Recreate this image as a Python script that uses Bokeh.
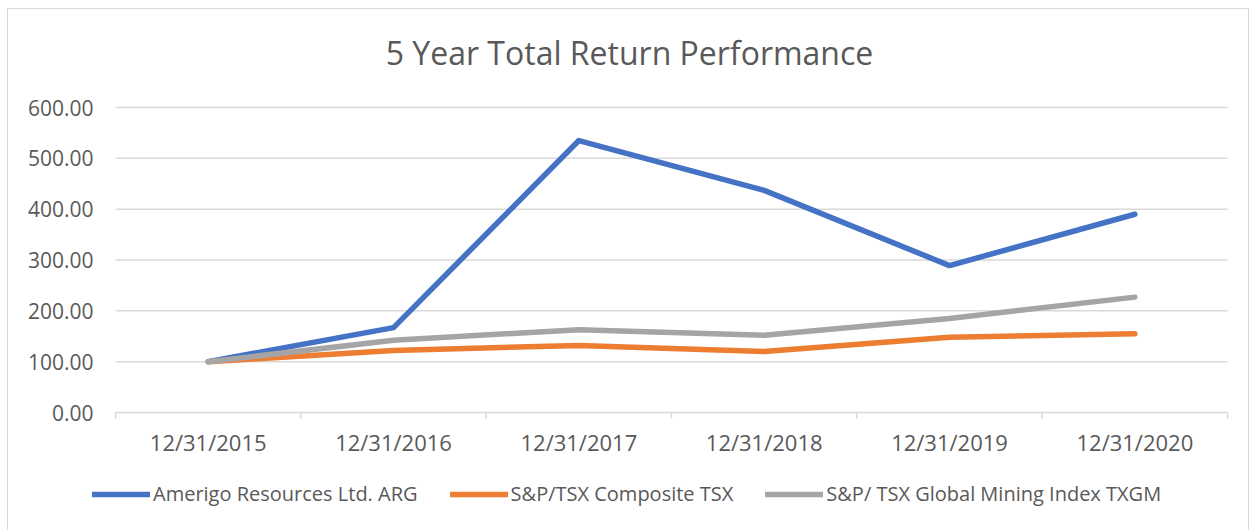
from bokeh.plotting import figure
from bokeh.models import Range1d, Legend, LegendItem, ColumnDataSource
from bokeh.core.properties import value
from bokeh.embed import file_html
from bokeh.resources import INLINE

title_text = "5 Year Total Return Performance"
dates = ["12/31/2015", "12/31/2016", "12/31/2017", "12/31/2018", "12/31/2019", "12/31/2020"]
arg = [100, 167, 535, 437, 289, 390]
tsx = [100, 122, 132, 120, 148, 155]
txgm = [100, 142, 163, 152, 185, 227]
yticks = [0, 100, 200, 300, 400, 500, 600]
series_names = ["Amerigo Resources Ltd. ARG", "S&P/TSX Composite TSX",
                "S&P/ TSX Global Mining Index TXGM"]
colors = ["#4472C4", "#ED7D31", "#A5A5A5"]

FONT = "Open Sans"
TXT = "#595959"
GRID = "#d9d9d9"

n = len(dates)
idx = list(range(n))
x_lo, x_hi = -0.5, n - 0.5           # category band edges
# view ranges (layout): one category band = 185.33 px, 100 units = 50.83 px
xr = Range1d(-1.0775, 5.624)
yr = Range1d(-234.1, 792.8)

p = figure(width=1242, height=522, x_range=xr, y_range=yr,
           output_backend="svg", toolbar_location=None,
           x_axis_location=None, y_axis_location=None,
           min_border=0)
p.styles = {"margin-left": "7px", "margin-top": "8px",
            "border-left": "1px solid #d9d9d9", "border-top": "1px solid #d9d9d9",
            "border-right": "1px solid #d9d9d9"}
p.outline_line_color = None
p.background_fill_color = "white"
p.border_fill_color = "white"
p.grid.visible = False

# gridlines (0 line doubles as the category axis line)
p.segment(x0=[x_lo] * len(yticks), x1=[x_hi] * len(yticks), y0=yticks, y1=yticks,
          line_color=GRID, line_width=1.5)
# category boundary tick marks
bounds = [i - 0.5 for i in range(n + 1)]
p.segment(x0=bounds, x1=bounds, y0=[0] * len(bounds), y1=[-12] * len(bounds),
          line_color=GRID, line_width=1.5)

# y tick labels
p.text(x=[x_lo] * len(yticks), y=yticks, text=[f"{v:.2f}" for v in yticks],
       x_offset=-22, text_align="right", text_baseline="middle",
       text_font=value(FONT), text_font_size="21px", text_color=TXT)
# x tick labels
p.text(x=idx, y=[0] * n, text=dates, y_offset=29, text_align="center",
       text_baseline="middle", text_font=value(FONT), text_font_size="22px",
       text_color=TXT)
# title
p.text(x=[(xr.start + xr.end) / 2], y=[yticks[-1]], text=[title_text], y_offset=-55,
       text_align="center", text_baseline="middle", text_font=value(FONT),
       text_font_size="32px", text_color=TXT)

src = ColumnDataSource(dict(x=idx, arg=arg, tsx=tsx, txgm=txgm))
renderers = []
for key, c in zip(["arg", "tsx", "txgm"], colors):
    r = p.line("x", key, source=src, line_color=c, line_width=5.5,
               line_cap="round", line_join="round")
    renderers.append(r)

legend = Legend(items=[LegendItem(label=s, renderers=[r]) for s, r in zip(series_names, renderers)],
                orientation="horizontal", location=(84, 24),
                label_text_font=FONT, label_text_font_size="20px", label_text_color=TXT,
                glyph_width=58, glyph_height=20, label_standoff=3, spacing=32,
                border_line_color=None, background_fill_alpha=0, padding=0, margin=0)
p.add_layout(legend, "center")

open("out.html", "w").write(file_html(p, INLINE))
